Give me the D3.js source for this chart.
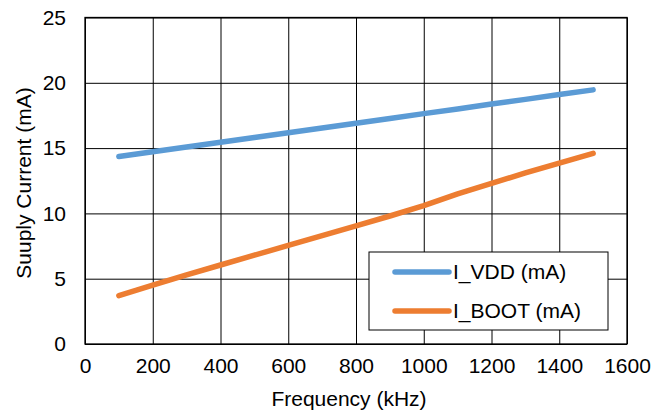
<!DOCTYPE html>
<html>
<head>
<meta charset="utf-8">
<script src="https://cdn.jsdelivr.net/npm/d3@7"></script>
<style>
  body { margin: 0; background: #fff; }
  text { font-family: "Liberation Sans", Arial, sans-serif; fill: #000; }
</style>
</head>
<body>
<div id="chart"></div>
<script>
// DATA
const freq = [100, 200, 300, 400, 500, 600, 700, 800, 900, 1000, 1100, 1200, 1300, 1400, 1500];
const iVdd = [14.35, 14.72, 15.08, 15.45, 15.81, 16.18, 16.54, 16.91, 17.27, 17.64, 18.0, 18.37, 18.73, 19.1, 19.46];
const iBoot = [3.7, 4.5, 5.3, 6.05, 6.8, 7.55, 8.3, 9.05, 9.8, 10.6, 11.5, 12.3, 13.1, 13.85, 14.6];
const xTicks = [0, 200, 400, 600, 800, 1000, 1200, 1400, 1600];
const yTicks = [0, 5, 10, 15, 20, 25];
const seriesNames = ["I_VDD (mA)", "I_BOOT (mA)"];
const seriesColors = ["#5B9BD5", "#ED7D31"];

const series = [iVdd, iBoot].map((vals, i) => ({
  key: seriesNames[i],
  color: seriesColors[i],
  values: freq.map((f, j) => ({ f: f, v: vals[j] }))
}));

// SVG
const W = 666, H = 414;
const margin = {top: 17.5, right: 39, bottom: 70, left: 85};
const width = W - margin.left - margin.right;
const height = H - margin.top - margin.bottom;
const fs = "21px";

const svg = d3.select("#chart")
  .append("svg")
    .attr("width", W)
    .attr("height", H);

const g = svg.append("g")
  .attr("transform", `translate(${margin.left},${margin.top})`);

// SCALE AND AXIS
const xs = d3.scaleLinear().domain([0, 1600]).range([0, width]);
const ys = d3.scaleLinear().domain([0, 25]).range([height, 0]);

// gridlines
g.append("g")
  .attr("transform", `translate(0,${height})`)
  .call(d3.axisBottom(xs).tickValues(xTicks).tickSize(-height).tickFormat(""))
  .call(a => a.select(".domain").remove())
  .selectAll("line").attr("stroke", "#000").attr("stroke-width", 1);

g.append("g")
  .call(d3.axisLeft(ys).tickValues(yTicks).tickSize(-width).tickFormat(""))
  .call(a => a.select(".domain").remove())
  .selectAll("line").attr("stroke", "#000").attr("stroke-width", 1);

// border
g.append("rect")
  .attr("width", width)
  .attr("height", height)
  .attr("fill", "none")
  .attr("stroke", "#000")
  .attr("stroke-width", 1.3);

// tick labels
const xAxis = g.append("g")
  .attr("transform", `translate(0,${height})`)
  .call(d3.axisBottom(xs).tickValues(xTicks).tickSize(0).tickPadding(14).tickFormat(d3.format("d")));
xAxis.select(".domain").remove();
xAxis.selectAll("text").style("font-size", fs).attr("dy", "0.71em");

const yAxis = g.append("g")
  .call(d3.axisLeft(ys).tickValues(yTicks).tickSize(0).tickPadding(19));
yAxis.select(".domain").remove();
yAxis.selectAll("text").style("font-size", fs);

// axis titles
svg.append("text")
  .attr("x", 349)
  .attr("y", 406)
  .attr("text-anchor", "middle")
  .style("font-size", fs)
  .text("Frequency (kHz)");

svg.append("text")
  .attr("transform", "rotate(-90)")
  .attr("x", -183)
  .attr("y", 31)
  .attr("text-anchor", "middle")
  .style("font-size", fs)
  .text("Suuply Current (mA)");

// DRAW LINES
const line = d3.line()
  .x(d => xs(d.f))
  .y(d => ys(d.v));

g.selectAll(".line")
  .data(series)
  .enter()
  .append("path")
  .attr("class", "line")
  .attr("fill", "none")
  .attr("stroke", d => d.color)
  .attr("stroke-width", 5.5)
  .attr("stroke-linecap", "round")
  .attr("stroke-linejoin", "round")
  .attr("d", d => line(d.values));

// LEGEND
const legend = svg.append("g").attr("transform", "translate(369,252)");
legend.append("rect")
  .attr("width", 239)
  .attr("height", 78)
  .attr("fill", "#fff")
  .attr("stroke", "#000")
  .attr("stroke-width", 1);

const items = legend.selectAll("g.item")
  .data(series)
  .enter()
  .append("g")
  .attr("class", "item")
  .attr("transform", (d, i) => `translate(0,${20 + i * 39})`);

items.append("line")
  .attr("x1", 26)
  .attr("x2", 80)
  .attr("stroke", d => d.color)
  .attr("stroke-width", 5.5)
  .attr("stroke-linecap", "round");

items.append("text")
  .attr("x", 84)
  .attr("dy", "0.35em")
  .style("font-size", fs)
  .text(d => d.key);
</script>
</body>
</html>
